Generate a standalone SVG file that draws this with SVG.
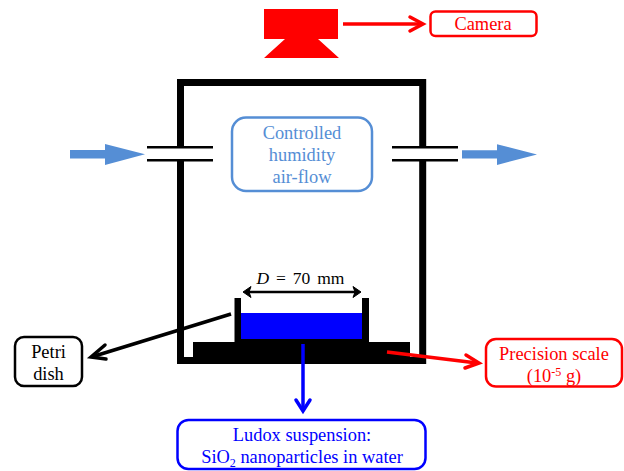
<svg xmlns="http://www.w3.org/2000/svg" width="624" height="471" viewBox="0 0 624 471">
<style>
text{font-family:"Liberation Serif","Times New Roman",serif;font-size:18.4px;text-anchor:middle}
.box{fill:#fff;stroke-width:2.500}
.k{stroke:#000;fill:none}
.r{stroke:#f00;fill:none}
.b{stroke:#00f;fill:none}
.a{stroke-width:3.500;fill:none}
.head{stroke-linecap:round;stroke-linejoin:miter}
</style>
<rect width="624" height="471" fill="#fff"/>
<g id="chamber">
<path d="M180.500 147V82.500H422.700V147M180.500 160.500V360.500H422.700V160.500" fill="none" stroke="#000" stroke-width="7"/>
<path d="M147 147.300H213M147 160.300H213M392 147.300H458M392 160.300H458" stroke="#000" stroke-width="2.400" fill="none"/>
</g>
<g id="camera">
<path d="M264 9H338V39H318L339 58H264L285 39H264Z" fill="#f00"/>
</g>
<g id="petri-dish">
<rect x="193" y="342" width="217" height="22" fill="#000"/>
<rect x="241" y="313" width="121" height="26" fill="#00f"/>
<path d="M234.500 298H241V339H362V298H369V343H234.500Z" fill="#000"/>
<text x="300.500" y="284" style="font-size:17.500px;word-spacing:2.500px"><tspan font-style="italic">D</tspan> = 70 mm</text>
</g>
<g id="connectors">
<g id="air-in"><path d="M70 150H105V144L145 154.300L105 165V158.500H70Z" fill="#558ed5"/></g>
<g id="air-out"><path d="M462 150.300H497V144.300L537 154.500L497 165V158.500H462Z" fill="#558ed5"/></g>
<path class="k" d="M246 292H358" stroke-width="2.500"/>
<path d="M243 292L251 286.500L249 292L251 297.500ZM361 292L353 286.500L355 292L353 297.500Z" fill="#000" stroke="#000"/>
<path class="r a" d="M343 24H421"/>
<path class="r a head" d="M410 17L423 24L410 31"/>
<path class="k a" d="M231 314L93 356.500"/>
<path class="k a head" d="M105 345L91 357L106 359"/>
<path class="b a" d="M303 344V409"/>
<path class="b a head" d="M296 400L303 411L310 400"/>
<path class="r a" d="M387 352L477 363"/>
<path class="r a head" d="M466 355L479 363L465 368"/>
</g>
<g id="airflow-label">
<rect class="box" x="232" y="117.500" width="140" height="73.500" rx="14" stroke="#558ed5"/>
<g fill="#558ed5"><text x="302" y="139">Controlled</text><text x="302" y="161">humidity</text><text x="302" y="183">air-flow</text></g>
</g>
<g id="camera-label">
<rect class="box" x="430.500" y="11.500" width="106" height="24.500" rx="5" stroke="#f00"/>
<text x="483" y="30" fill="#f00">Camera</text>
</g>
<g id="petri-label">
<rect class="box" x="15" y="337" width="67" height="49" rx="9" stroke="#000"/>
<text x="48.500" y="358">Petri</text><text x="48.500" y="380">dish</text>
</g>
<g id="ludox-label">
<rect class="box" x="177.500" y="420" width="248" height="49" rx="11" stroke="#00f"/>
<g fill="#00f"><text x="302" y="441">Ludox suspension:</text>
<text x="302" y="463">SiO<tspan font-size="12" dy="4">2</tspan><tspan dy="-4"> nanoparticles in water</tspan></text></g>
</g>
<g id="scale-label">
<rect class="box" x="486" y="339" width="136" height="47.500" rx="10" stroke="#f00"/>
<g fill="#f00"><text x="554" y="360">Precision scale</text>
<text x="554" y="382">(10<tspan font-size="12" dy="-6">-5</tspan><tspan dy="6"> g)</tspan></text></g>
</g>
</svg>
